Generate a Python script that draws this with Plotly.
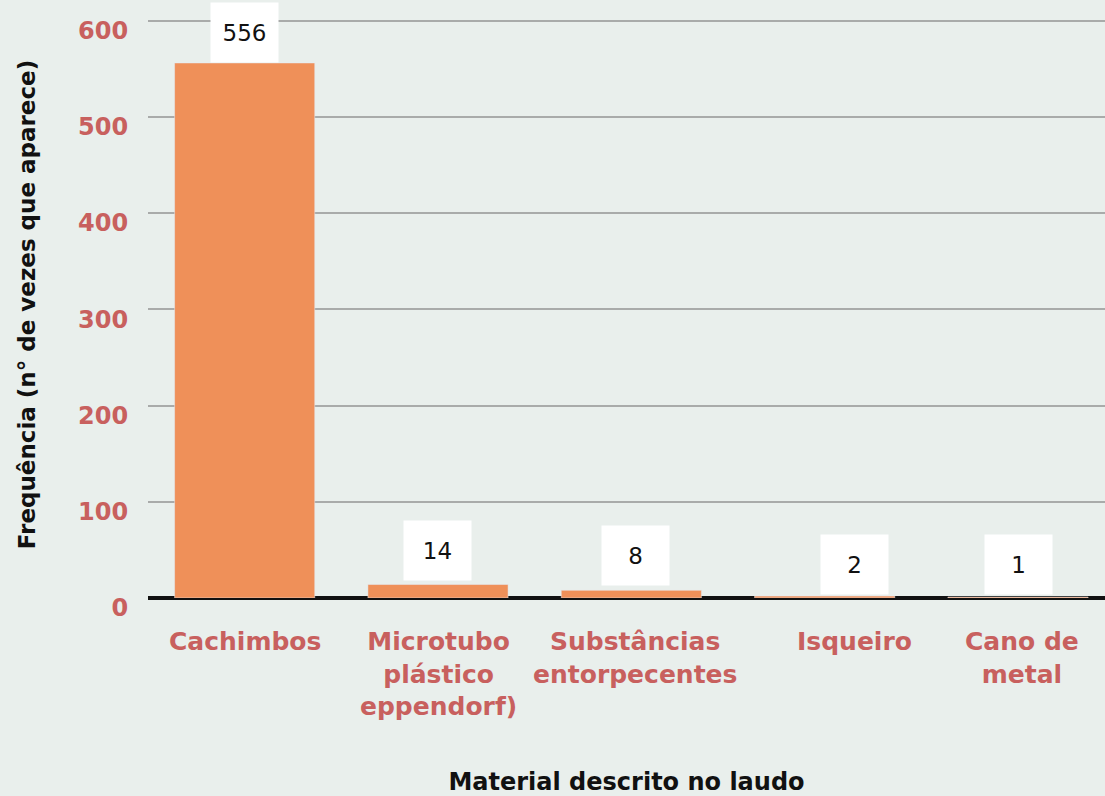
import plotly.graph_objects as go

categories = ["Cachimbos", "Microtubo<br>plástico<br>eppendorf)", "Substâncias<br>entorpecentes", "Isqueiro", "Cano de<br>metal"]
values = [556, 14, 8, 2, 1]
value_labels = ["556", "14", "8", "2", "1"]

# style: horizontal offsets of labels (px) and vertical gaps of value boxes
label_xshift = [0, 0, 4, 30, 4]
box_xshift = [0, -1, 4, 30, 0]
box_yshift = [0, 4, 4, 1, 2]

BG = "#e9efec"
BAR = "#ef9059"
TICK = "#c8605e"
FONT = "DejaVu Sans"

fig = go.Figure()
fig.add_trace(go.Bar(
    x=list(range(len(categories))), y=values, marker_color=BAR, width=0.725,
    hoverinfo="skip",
))

annotations = []
for i, (lab, v, t) in enumerate(zip(categories, values, value_labels)):
    annotations.append(dict(
        x=i, y=v, xref="x", yref="y", text=t, showarrow=False,
        xanchor="center", yanchor="bottom", yshift=box_yshift[i], xshift=box_xshift[i],
        width=67, height=59, bgcolor="white", borderpad=0,
        font=dict(family=FONT, size=23, color="#111111", weight=400),
    ))
    annotations.append(dict(
        x=i, y=0, xref="x", yref="paper", text=lab, showarrow=False,
        xanchor="center", yanchor="top", yshift=-27, xshift=label_xshift[i],
        font=dict(family=FONT, size=25, color=TICK, weight=700),
    ))

fig.update_layout(
    width=1105, height=796,
    paper_bgcolor=BG, plot_bgcolor=BG,
    margin=dict(l=148, r=0, t=11, b=198),
    showlegend=False,
    bargap=0.275,
    annotations=annotations,
    xaxis=dict(
        range=[-0.5, 4.45], showticklabels=False, showgrid=False, zeroline=False,
        ticks="", showline=False,
        title=dict(text="Material descrito no laudo", standoff=177,
                   font=dict(family=FONT, size=24, color="#111111", weight=700)),
    ),
    yaxis=dict(
        range=[0, 610], tickvals=[0, 100, 200, 300, 400, 500, 600],
        showgrid=True, gridcolor="#a9abaa", gridwidth=1.5,
        zeroline=True, zerolinecolor="#111111", zerolinewidth=3.5,
        tickfont=dict(family=FONT, size=24, color=TICK, weight=700),
        ticks="outside", ticklen=14, tickcolor="rgba(0,0,0,0)",
        ticklabelshift=10,
        title=dict(text="Frequência (n° de vezes que aparece)", standoff=36,
                   font=dict(family=FONT, size=23, color="#111111", weight=700)),
    ),
)

fig.write_html("out.html", config={"displayModeBar": False},
               post_script="document.body.style.margin='0';")
